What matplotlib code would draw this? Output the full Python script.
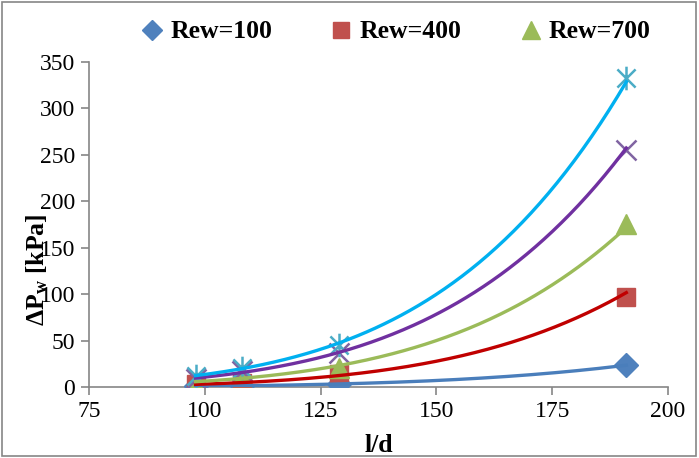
import numpy as np
import matplotlib
matplotlib.use("Agg")
import matplotlib.pyplot as plt
from matplotlib.path import Path
from matplotlib.patches import Rectangle

# ---- data ----
x_ld = [98, 108, 129, 191]
rew100 = [0.8, 1.5, 3, 24]
rew400 = [2.7, 4.6, 14, 97]
rew700 = [5, 12, 20, 176]
series4 = [9, 17, 37, 255]
series5 = [12, 21, 45, 333]
legend_labels = ["Rew=100", "Rew=400", "Rew=700"]
x_ticks = [75, 100, 125, 150, 175, 200]
y_ticks = [0, 50, 100, 150, 200, 250, 300, 350]

plt.rcParams['font.family'] = ['Liberation Serif', 'DejaVu Serif']
plt.rcParams['mathtext.fontset'] = 'custom'
plt.rcParams['mathtext.rm'] = 'Liberation Serif'
plt.rcParams['mathtext.bf'] = 'Liberation Serif:bold'

fig = plt.figure(figsize=(6.99, 4.58), dpi=100)
ax = fig.add_axes([89/699, 1-387/458, (668-89)/699, (387-62)/458])

# star marker: X plus vertical bar
star = Path([(-1, -1), (1, 1), (-1, 1), (1, -1), (0, -1.3), (0, 1.3)],
            [Path.MOVETO, Path.LINETO, Path.MOVETO, Path.LINETO, Path.MOVETO, Path.LINETO])

specs = [
    (rew100, 'D', '#4F81BD', '#4A7EBB', 12, legend_labels[0]),
    (rew400, 's', '#C0504D', '#C00000', 13, legend_labels[1]),
    (rew700, '^', '#9BBB59', '#9BBB59', 14.5, legend_labels[2]),
    (series4, 'x', '#8064A2', '#7030A0', 14, None),
    (series5, star, '#4BACC6', '#00B0F0', 17, None),
]

handles = []
xs = np.array(x_ld, dtype=float)
for vals, m, mc, lc, ms, lab in specs:
    if m in ('x',) or m is star:
        h, = ax.plot(xs, vals, linestyle='none', marker=m, markersize=ms,
                     markeredgecolor=mc, markerfacecolor='none', markeredgewidth=1.8, zorder=3)
    else:
        h, = ax.plot(xs, vals, linestyle='none', marker=m, markersize=ms,
                     markeredgecolor=mc, markerfacecolor=mc, zorder=3)
    if lab:
        handles.append((h, lab))
    # power trend line
    v = np.array(vals, dtype=float)
    b, lna = np.polyfit(np.log(xs), np.log(v), 1)
    xx = np.linspace(xs.min(), xs.max(), 200)
    ax.plot(xx, np.exp(lna) * xx ** b, color=lc, linewidth=2.4, zorder=4)

ax.set_xlim(75, 200)
ax.set_ylim(0, 350)
ax.set_xticks(x_ticks)
ax.set_yticks(y_ticks)
ax.tick_params(labelsize=17, direction='out', length=6, width=1.2, color='#868686', pad=4)
for s in ['top', 'right']:
    ax.spines[s].set_visible(False)
for s in ['left', 'bottom']:
    ax.spines[s].set_color('#868686')
    ax.spines[s].set_linewidth(1.2)

ax.set_xlabel('l/d', fontsize=18.5, fontweight='bold', labelpad=9)
ax.set_ylabel(r'$\mathbf{\Delta P_w}$ [kPa]', fontsize=18.5, fontweight='bold')
ax.yaxis.set_label_coords(-0.068, 0.36)

fig.legend([h for h, _ in handles], [l for _, l in handles], loc='center',
           bbox_to_anchor=(0.565, 1-32/458), ncol=3, frameon=False,
           prop={'size': 18.5, 'weight': 'bold'}, handletextpad=0.2,
           columnspacing=2.2, handlelength=1.0, markerscale=0.85)

fig.add_artist(Rectangle((0.003, 0.005), 0.992, 0.99, transform=fig.transFigure,
                         fill=False, edgecolor='#868686', linewidth=1.2))

fig.savefig('out.png', dpi=100)
